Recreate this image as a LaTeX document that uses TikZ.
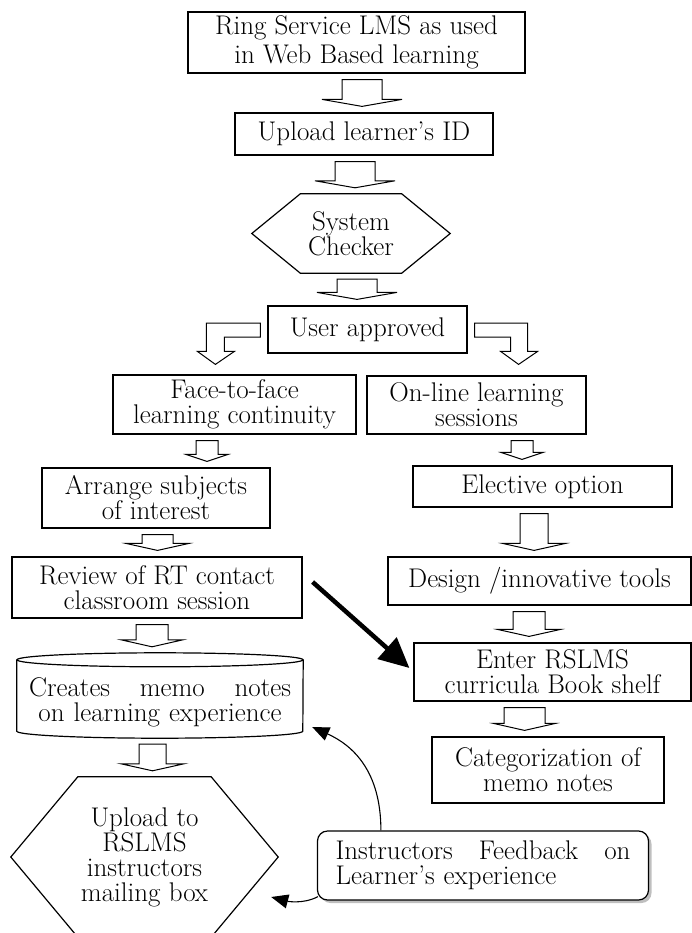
\documentclass[tikz,border=0pt]{standalone}
\usetikzlibrary{arrows.meta,calc,shadows}
% hollow block arrow between two points, at a given x
\newcommand{\fatarrow}[5]{%
  \draw[fat] let \p1=(#1), \p2=(#2) in
    (#3*1pt-#4*1pt,\y1-6pt) -- (#3*1pt-#4*1pt,\y2+13pt) -- (#3*1pt-#5*1pt,\y2+13pt)
    -- (#3*1pt,\y2+6pt) -- (#3*1pt+#5*1pt,\y2+13pt) -- (#3*1pt+#4*1pt,\y2+13pt)
    -- (#3*1pt+#4*1pt,\y1-6pt) -- cycle;}
% hexagon drawn round a node
\newcommand{\hexa}[2]{%
  \draw[line] (#1.west) -- ([xshift=#2]#1.north west) -- ([xshift=-#2]#1.north east)
    -- (#1.east) -- ([xshift=-#2]#1.south east) -- ([xshift=#2]#1.south west) -- cycle;}
\begin{document}
\begin{tikzpicture}[x=1pt,y=-1pt,
  line/.style={line width=1.2pt},
  box/.style={draw,line width=1.2pt,inner sep=0pt,align=center,font=\fontsize{27}{25}\selectfont},
  txt/.style={inner sep=0pt,align=center,font=\fontsize{27}{25}\selectfont},
  fat/.style={line width=1pt,line join=miter},
  link/.style={line width=1.1pt,-{Triangle[length=17pt,width=14pt]}},
  heavy/.style={line width=4.5pt,-{Triangle[length=30pt,width=28pt]}}]
\useasboundingbox (0,0) rectangle (692,933);

% left column and top
\node[box,minimum width=337,minimum height=61,font=\fontsize{27}{29}\selectfont] (ring) at (356.5,42.5) {Ring Service LMS as used\\in Web Based learning};
\node[box,minimum width=258,minimum height=42] (upload) at (364,134) {Upload learner’s ID};
\node[txt,minimum width=198,minimum height=79] (checker) at (351,233.5) {System\\Checker};
\hexa{checker}{48.5pt}
\node[box,minimum width=199,minimum height=47] (user) at (367.5,329.5) {User approved};
\node[box,minimum width=243,minimum height=59] (face) at (234.5,404.5) {Face-to-face\\learning continuity};
\node[box,minimum width=228,minimum height=60] (arrange) at (156,498) {Arrange subjects\\of interest};
\node[box,minimum width=290,minimum height=61] (review) at (157,587.5) {Review of RT contact\\classroom session};
\node[txt,text width=262,minimum width=286,minimum height=71] (memo) at (160,702.5) {Creates\hfill memo\hfill notes\\on learning experience};
\draw[line] ([yshift=7pt]memo.north) ellipse [x radius=143pt,y radius=7pt];
\draw[line] ([yshift=7pt]memo.north west) -- ([yshift=7pt]memo.south west)
  arc[start angle=180,end angle=360,x radius=143pt,y radius=7pt] -- ([yshift=7pt]memo.north east);
\coordinate (memotop) at ([yshift=14pt]memo.north);
\node[txt,minimum width=267,minimum height=160] (upl) at (144.5,857) {Upload to\\RSLMS\\instructors\\mailing box};
\hexa{upl}{67pt}

% right column
\node[box,minimum width=219,minimum height=58] (online) at (476.5,405) {On-line learning\\sessions};
\node[box,minimum width=259,minimum height=41] (elective) at (542.5,486.5) {Elective option};
\node[box,minimum width=303,minimum height=48] (design) at (539.5,581) {Design /innovative tools};
\node[box,minimum width=277,minimum height=58] (enter) at (552.5,672) {Enter RSLMS\\curricula Book shelf};
\node[box,minimum width=232,minimum height=66] (cat) at (548,770) {Categorization of\\memo notes};
\node[box,fill=white,rounded corners=10pt,align=left,text width=295,inner xsep=18pt,minimum height=69,
  drop shadow={shadow xshift=3pt,shadow yshift=-3pt,fill=black!50}] (fb) at (483,865.5)
  {Instructors\hfill Feedback\hfill on\\Learner’s experience};

% block arrows
\foreach \from/\to/\xpos/\hs/\hh in {ring.south/upload.north/362/20/40,
    upload.south/checker.north/355/20/40, checker.south/user.north/357/20/40,
    face.south/arrange.north/207/11/21, arrange.south/review.north/157.5/15.5/31.5,
    review.south/memotop/152/16/31, memo.south/upl.north/152.5/13.5/31.5,
    online.south/elective.north/522/11/21, elective.south/design.north/534/14/31.5,
    design.south/enter.north/529/16/31.5, enter.south/cat.north/524.5/20.5/31}
  \fatarrow{\from}{\to}{\xpos}{\hs}{\hh};

% bent arrows out of the approval box
\draw[fat] let \p1=(user.west), \p2=(face.north) in
  (\x1-7pt,\y1+6.5pt) -- (\x1-61pt,\y1+6.5pt) -- (\x1-61pt,\y2+23pt) -- (\x1-70pt,\y2+23pt)
  -- (\x1-52pt,\y2+10pt) -- (\x1-33pt,\y2+23pt) -- (\x1-43pt,\y2+23pt) -- (\x1-43pt,\y1-7.5pt)
  -- (\x1-7pt,\y1-7.5pt) -- cycle;
\draw[fat] let \p1=(user.east), \p2=(online.north) in
  (\x1+7pt,\y1+6.5pt) -- (\x1+60pt,\y1+6.5pt) -- (\x1+60pt,\y2+24pt) -- (\x1+70pt,\y2+24pt)
  -- (\x1+51pt,\y2+11pt) -- (\x1+33pt,\y2+24pt) -- (\x1+43pt,\y2+24pt) -- (\x1+43pt,\y1-7.5pt)
  -- (\x1+7pt,\y1-7.5pt) -- cycle;

% other connectors
\draw[heavy] ([shift={(10pt,5.5pt)}]review.east) -- ([shift={(-4pt,4pt)}]enter.west);
\draw[link] ([xshift=64pt]fb.north west) .. controls +(0,-60) and +(40,18) .. ([shift={(9pt,-24.5pt)}]memo.east);
\draw[link] ([shift={(1pt,4pt)}]fb.south west) .. controls +(-15,8) and +(15,4) .. ([shift={(-7pt,-40pt)}]upl.east);
\end{tikzpicture}
\end{document}
